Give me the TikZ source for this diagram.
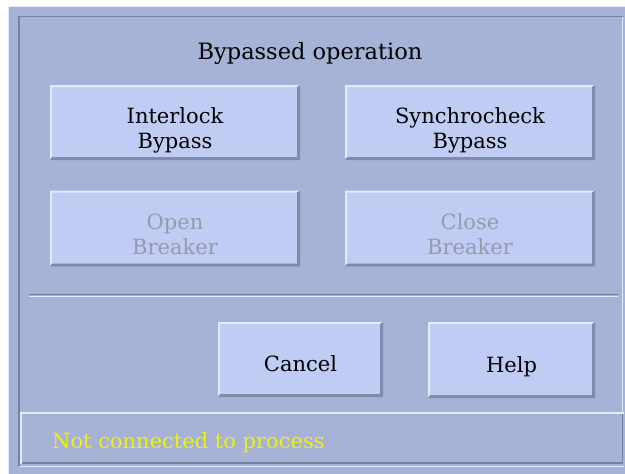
\documentclass[tikz,border=0pt]{standalone}
\usepackage{fontspec}
\setmainfont{DejaVu Serif}
\definecolor{panel}{RGB}{166,178,214}
\definecolor{face}{RGB}{192,204,244}
\definecolor{hilite}{RGB}{226,234,252}
\definecolor{btnshadow}{RGB}{128,138,170}
\definecolor{frameline}{RGB}{118,128,160}
\definecolor{greytext}{RGB}{150,154,172}
\definecolor{statustext}{RGB}{236,244,0}
\newcommand\btnfont{\fontsize{21}{25}\selectfont}
\begin{document}
\begin{tikzpicture}[x=1pt,y=-1pt,
  btn/.style={rectangle, fill=face, inner sep=0pt, align=center, font=\btnfont,
    path picture={
      \path (path picture bounding box.south west) coordinate (bA)
            (path picture bounding box.north west) coordinate (bB)
            (path picture bounding box.north east) coordinate (bC)
            (path picture bounding box.south east) coordinate (bD);
      \fill[hilite] (bA) -- (bB) -- (bC) -- ([xshift=-3pt,yshift=-2pt]bC)
        -- ([xshift=2pt,yshift=-2pt]bB) -- ([xshift=2pt,yshift=3pt]bA) -- cycle;
      \fill[btnshadow] (bA) -- ([xshift=2pt,yshift=3pt]bA) -- ([xshift=-3pt,yshift=3pt]bD)
        -- ([xshift=-3pt,yshift=-2pt]bC) -- (bC) -- (bD) -- cycle;
    }},
  twoline/.style={text height=51pt, text depth=0pt},
  oneline/.style={text height=24pt, text depth=0pt},
  disabled/.style={text=greytext}]
\useasboundingbox (0,0) rectangle (625,474);
\fill[white] (0,0) rectangle (625,474);
% dialog panel
\fill[panel] (8,6) rectangle (625,474);
\draw[hilite, line width=1pt] (8.5,474) -- (8.5,6.5) -- (625,6.5);
% sunken inner frame
\draw[frameline, line width=1.5pt] (19,467) -- (19,16.5) -- (623,16.5);
\draw[hilite, line width=1pt] (622.5,17) -- (622.5,412);
\draw[hilite, line width=1.5pt] (19,466.5) -- (624,466.5);
% title
\node[anchor=base, font=\fontsize{22.5}{27}\selectfont] (title) at (310,59) {Bypassed operation};
% buttons
\node[btn, twoline, minimum width=250pt, minimum height=75pt] (ib) at (175,122.5) {Interlock\\Bypass};
\node[btn, twoline, minimum width=250pt, minimum height=75pt] (sb) at (470,122.5) {Synchrocheck\\Bypass};
\node[btn, twoline, disabled, minimum width=250pt, minimum height=76pt] (ob) at (175,228.5) {Open\\Breaker};
\node[btn, twoline, disabled, minimum width=250pt, minimum height=76pt] (cb) at (470,228.5) {Close\\Breaker};
% separator groove
\draw[frameline, line width=1.5pt] (29,294.5) -- (618,294.5);
\draw[hilite, line width=1.5pt] (29,296.5) -- (618,296.5);
\node[btn, oneline, minimum width=165pt, minimum height=75pt] (cancel) at (300.5,359.5) {Cancel};
\node[btn, oneline, minimum width=167pt, minimum height=76pt] (help) at (511.5,360) {Help};
% status bar
\fill[panel] (21,412) rectangle (623,464);
\draw[hilite, line width=2pt] (21,464) -- (21,413) -- (624,413);
\draw[frameline, line width=1.5pt] (22,463) -- (622.5,463) -- (622.5,414);
\node[anchor=base west, text=statustext, font=\btnfont, inner sep=0pt] (status) at (52,448) {Not connected to process};
\end{tikzpicture}
\end{document}
